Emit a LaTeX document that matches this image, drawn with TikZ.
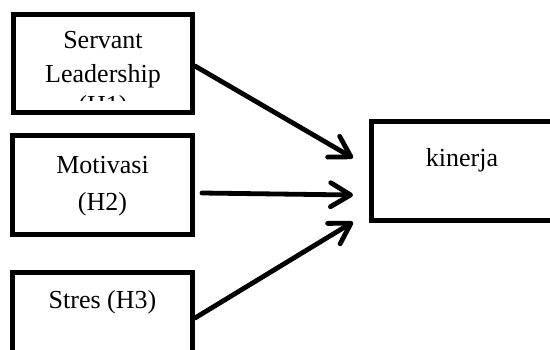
\documentclass[tikz,border=0pt]{standalone}
\usepackage{fontspec}
\setmainfont{Liberation Serif}
\usetikzlibrary{arrows.meta}
\begin{document}
\begin{tikzpicture}[x=1pt,y=-1pt,
  boxline/.style={draw=black,line width=4.8pt,fill=none,inner sep=0pt,outer sep=0pt},
  lbl/.style={anchor=base,inner sep=0pt,font=\fontsize{26}{32}\selectfont},
  arr/.style={line width=4.8pt,line cap=round,line join=round,
    -{Straight Barb[length=20pt,width=24pt,line cap=round,line join=round]}}]
\useasboundingbox (0,0) rectangle (550,349);
\fill[white] (0,0) rectangle (550,349);
\clip (0,0) rectangle (550,349);
% boxes
\draw[boxline] (13.5,14.5) rectangle (192.5,112.5);
\draw[boxline] (12.5,135.5) rectangle (192.5,234.5);
\draw[boxline] (12.5,272.5) rectangle (192.5,400);
\draw[boxline] (371.5,121.5) rectangle (620,220.5);
% anchor coordinates on box edges
\coordinate (s1) at (195,66);
\coordinate (s2) at (202,193);
\coordinate (s3) at (195,318);
\coordinate (t1) at (353,158);
\coordinate (t2) at (353,195);
\coordinate (t3) at (353,222);
% texts
\node[lbl] (servant) at (103,48) {Servant};
\node[lbl] (leader) at (103,82) {Leadership};
\begin{scope}
\clip (16,16) rectangle (190,100);
\node[lbl] (h1) at (103,113) {(H1)};
\end{scope}
\node[lbl] (motivasi) at (102.5,173) {Motivasi};
\node[lbl] (h2) at (102.5,210) {(H2)};
\node[lbl] (stres) at (102.5,308) {Stres (H3)};
\node[lbl] (kinerja) at (462,166) {kinerja};
% arrows
\draw[arr] (s1) -- (t1);
\draw[arr] (s2) -- (t2);
\draw[arr] (s3) -- (t3);
\end{tikzpicture}
\end{document}
